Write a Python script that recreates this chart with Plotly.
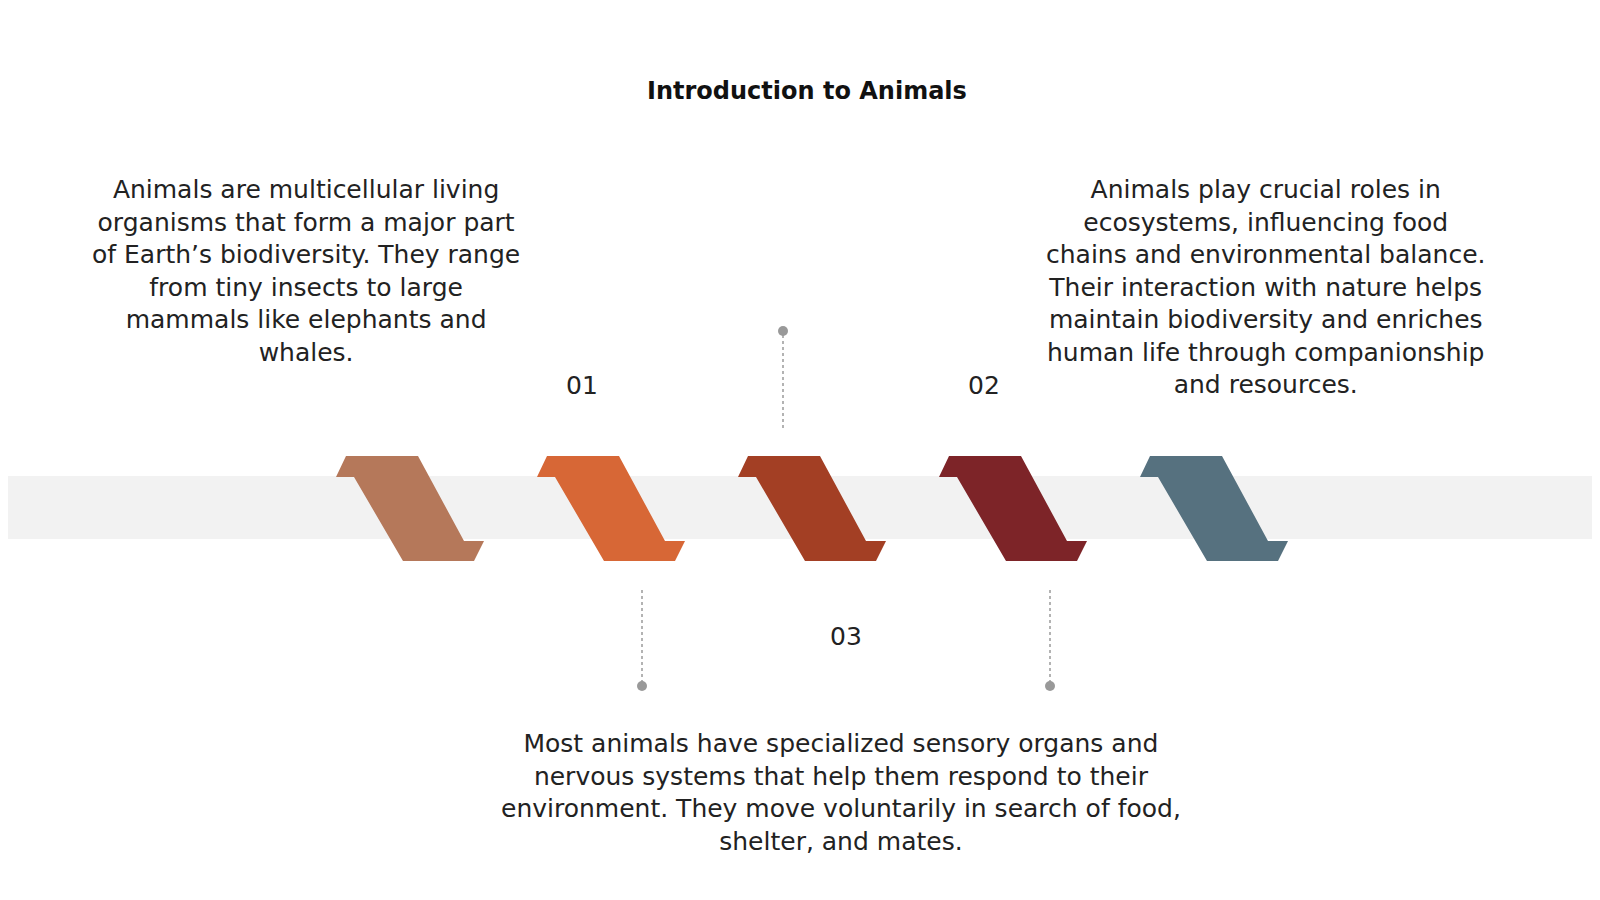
import plotly.graph_objects as go

# step markers along the band
step_x = [328, 529, 730, 931, 1132]
step_colors = ["#B5785A", "#D76736", "#A33F24", "#7D2428", "#56717F"]
# outline of one marker, relative to its left edge
marker_dx = [10, 82, 128, 148, 138, 67, 18, 0]
marker_y = [448, 448, 533, 533, 553, 553, 469, 469]

title = "<b>Introduction to Animals</b>"
labels = ["01", "02", "03"]
label_pos = [(574, 377), (976, 377), (838, 628)]
texts = [
    "Animals are multicellular living<br>organisms that form a major part<br>of Earth’s biodiversity. They range<br>from tiny insects to large<br>mammals like elephants and<br>whales.",
    "Animals play crucial roles in<br>ecosystems, influencing food<br>chains and environmental balance.<br>Their interaction with nature helps<br>maintain biodiversity and enriches<br>human life through companionship<br>and resources.",
    "Most animals have specialized sensory organs and<br>nervous systems that help them respond to their<br>environment. They move voluntarily in search of food,<br>shelter, and mates.",
]
text_pos = [(298, 165), (1257, 165), (833, 719)]
# connectors: x, line start, line end (dot at end)
connectors = [(775, 420, 323), (634, 582, 678), (1042, 582, 678)]

font = "DejaVu Sans"
fig = go.Figure()

shapes = [dict(type="rect", x0=0, x1=1600, y0=468, y1=531, fillcolor="#F2F2F2",
               line_width=0, layer="below")]
for x0, c in zip(step_x, step_colors):
    path = "M " + " L ".join(f"{x0 + dx},{y}" for dx, y in zip(marker_dx, marker_y)) + " Z"
    shapes.append(dict(type="path", path=path, fillcolor=c, line_width=0))
for cx, ya, yb in connectors:
    shapes.append(dict(type="line", x0=cx, x1=cx, y0=ya, y1=yb,
                       line=dict(color="#9A9A9A", width=1.5, dash="dot")))
    shapes.append(dict(type="circle", x0=cx - 5, x1=cx + 5, y0=yb - 5, y1=yb + 5,
                       fillcolor="#999999", line_width=0))

ann = [dict(x=799, y=83, text=title, showarrow=False,
            font=dict(family=font, size=24, color="#111"))]
for t, (x, y) in zip(labels, label_pos):
    ann.append(dict(x=x, y=y, text=t, showarrow=False,
                    font=dict(family=font, size=25, color="#222")))
for t, (x, y) in zip(texts, text_pos):
    ann.append(dict(x=x, y=y, text=t, showarrow=False, yanchor="top", align="center",
                    font=dict(family=font, size=25, color="#222")))

fig.update_layout(
    width=1600, height=900, margin=dict(l=0, r=0, t=0, b=0),
    paper_bgcolor="white", plot_bgcolor="white",
    xaxis=dict(range=[0, 1600], visible=False, fixedrange=True),
    yaxis=dict(range=[900, 0], visible=False, fixedrange=True),
    shapes=shapes, annotations=ann, showlegend=False,
)
fig.write_html("out.html")
